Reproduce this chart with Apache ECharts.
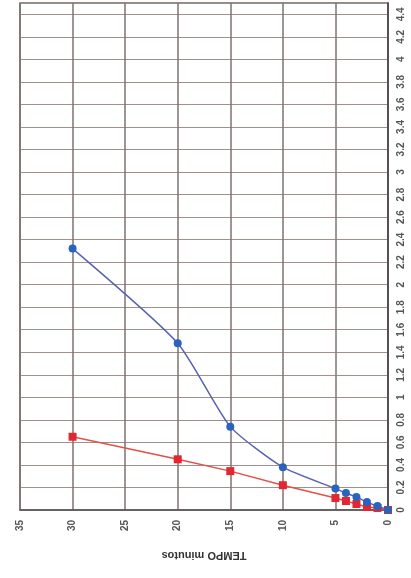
<!DOCTYPE html>
<html><head><meta charset="utf-8">
<script src="https://cdn.jsdelivr.net/npm/echarts@6/dist/echarts.min.js"></script>
<style>html,body{margin:0;padding:0;background:#fff}#c{width:411px;height:578px}</style>
</head><body><div id="c"></div>
<script>
const times = [0, 1, 2, 3, 4, 5, 10, 15, 20, 30];
const blueValues = [0, 0.035, 0.07, 0.115, 0.15, 0.19, 0.38, 0.74, 1.48, 2.32];
const redValues = [0, 0.018, 0.027, 0.053, 0.08, 0.106, 0.22, 0.345, 0.45, 0.65];
const xTicks = [0, 5, 10, 15, 20, 25, 30, 35];
const yTicks = [0, 0.2, 0.4, 0.6, 0.8, 1, 1.2, 1.4, 1.6, 1.8, 2, 2.2, 2.4, 2.6, 2.8, 3, 3.2, 3.4, 3.6, 3.8, 4, 4.2, 4.4];

const chart = echarts.init(document.getElementById('c'), null, {renderer: 'canvas'});
chart.setOption({
  animation: false,
  backgroundColor: '#ffffff',
  grid: {left: 20, right: 23, top: 3, bottom: 68, show: true, borderColor: '#6e6462', borderWidth: 1.5},
  xAxis: {
    type: 'value', min: xTicks[0], max: xTicks[xTicks.length - 1], interval: 5, inverse: true,
    position: 'bottom',
    name: 'TEMPO minutos', nameLocation: 'middle', nameGap: 40, nameRotate: 180,
    nameTextStyle: {fontFamily: 'Liberation Sans', fontWeight: 'bold', fontSize: 11, color: '#333'},
    axisLine: {lineStyle: {color: '#555', width: 1.5}},
    axisTick: {show: false},
    axisLabel: {rotate: 90, fontFamily: 'Liberation Sans', fontWeight: 'bold', fontSize: 10, color: '#555', margin: 10},
    splitLine: {show: true, lineStyle: {color: '#7e7270', width: 1.5}}
  },
  yAxis: {
    type: 'value', min: 0, max: 4.5, interval: 0.2, position: 'right',
    axisLine: {show: true, lineStyle: {color: '#444', width: 1.5}},
    axisTick: {show: false},
    axisLabel: {rotate: 90, fontFamily: 'Liberation Sans', fontWeight: 'bold', fontSize: 10, color: '#555', margin: 8, showMaxLabel: false,
      formatter: v => (yTicks.indexOf(Math.round(v * 10) / 10) >= 0 ? String(Math.round(v * 10) / 10) : '')},
    splitLine: {show: true, lineStyle: {color: '#a0908c', width: 1}}
  },
  series: [
    {
      type: 'line', data: times.map((t, i) => [t, redValues[i]]),
      symbol: 'rect', symbolSize: 8,
      lineStyle: {color: '#e4504a', width: 1.5},
      itemStyle: {color: '#e32630'}, z: 3
    },
    {
      type: 'line', data: times.map((t, i) => [t, blueValues[i]]), smooth: 0.2,
      symbol: 'circle', symbolSize: 8,
      lineStyle: {color: '#5a62b0', width: 1.5},
      itemStyle: {color: '#2a62c0'}, z: 4
    }
  ]
});
</script></body></html>
